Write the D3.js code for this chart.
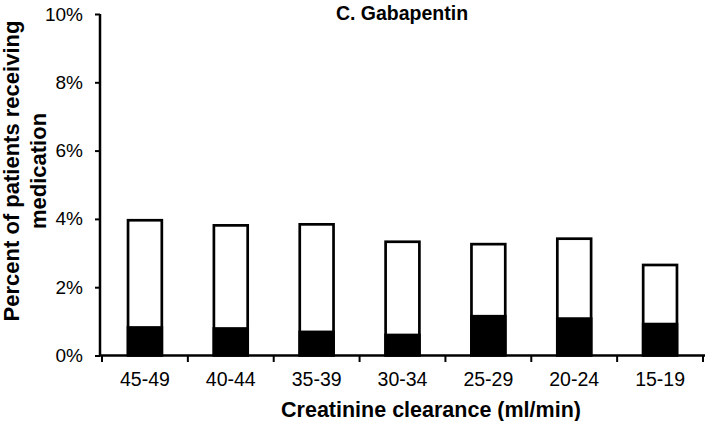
<!DOCTYPE html>
<html>
<head>
<meta charset="utf-8">
<script src="https://cdn.jsdelivr.net/npm/d3@7"></script>
<style>
  html, body { margin: 0; padding: 0; background: #fff; }
  svg { display: block; font-family: "Liberation Sans", Arial, sans-serif; }
</style>
</head>
<body>
<svg id="chart" width="705" height="421"></svg>
<script>
const categories = ["45-49", "40-44", "35-39", "30-34", "25-29", "20-24", "15-19"];
const totalPct = [4.00, 3.85, 3.88, 3.37, 3.30, 3.46, 2.69];
const blackPct = [0.86, 0.83, 0.73, 0.64, 1.19, 1.12, 0.96];
const yTicks = [0, 2, 4, 6, 8, 10];
const titleText = "C. Gabapentin";
const xTitle = "Creatinine clearance (ml/min)";
const yTitleLines = ["Percent of patients receiving", "medication"];

const svg = d3.select("#chart");
const x0 = 102, x1 = 703, yBase = 355.5, yTop = 14;

const x = d3.scaleBand().domain(categories).range([x0, x1]).padding(0);
const y = d3.scaleLinear().domain([0, 10]).range([yBase, yTop]);

const barW = x.bandwidth() * 0.425;
const sw = 2.7;

const g = svg.append("g");

// white (total) bars with black outline
g.selectAll("rect.total").data(categories).enter().append("rect")
  .attr("class", "total")
  .attr("x", (d) => x(d) + x.bandwidth() / 2 - barW / 2 + sw / 2)
  .attr("y", (d, i) => y(totalPct[i]) + sw / 2)
  .attr("width", barW - sw)
  .attr("height", (d, i) => yBase - y(totalPct[i]) - sw / 2)
  .attr("fill", "#fff").attr("stroke", "#000").attr("stroke-width", sw);

// black segment
g.selectAll("rect.black").data(categories).enter().append("rect")
  .attr("class", "black")
  .attr("x", (d) => x(d) + x.bandwidth() / 2 - barW / 2)
  .attr("y", (d, i) => y(blackPct[i]))
  .attr("width", barW)
  .attr("height", (d, i) => yBase - y(blackPct[i]))
  .attr("fill", "#000");

// y axis
const yAxis = d3.axisLeft(y).tickValues(yTicks).tickFormat(d => d + "%").tickSize(5).tickPadding(12);
const ya = svg.append("g").attr("transform", `translate(${x0 - 2},0)`).call(yAxis);
ya.select(".domain").attr("stroke", "#000").attr("stroke-width", 2.5).attr("d", `M0,${yTop}V${yBase}`);
ya.selectAll(".tick line").attr("stroke", "#000").attr("stroke-width", 2);
ya.selectAll(".tick text").attr("font-size", 19).attr("fill", "#000")
  .attr("font-family", "Liberation Sans, Arial, sans-serif");

// x axis: ticks at band boundaries
const xa = svg.append("g").attr("transform", `translate(0,${yBase})`);
xa.append("line").attr("x1", x0 - 3).attr("x2", 705).attr("y1", 0).attr("y2", 0)
  .attr("stroke", "#000").attr("stroke-width", 2.5);
const bounds = categories.map(d => x(d)).concat([x(categories[categories.length - 1]) + x.bandwidth()]);
xa.selectAll("line.tk").data(bounds).enter().append("line")
  .attr("class", "tk")
  .attr("x1", d => d).attr("x2", d => d).attr("y1", 0).attr("y2", 6.5)
  .attr("stroke", "#000").attr("stroke-width", 2);
xa.selectAll("text.lbl").data(categories).enter().append("text")
  .attr("class", "lbl")
  .attr("x", d => x(d) + x.bandwidth() / 2)
  .attr("y", 30.5)
  .attr("text-anchor", "middle")
  .attr("font-size", 19.5)
  .attr("fill", "#000")
  .text(d => d);

// titles
svg.append("text").attr("x", 402).attr("y", 20).attr("text-anchor", "middle")
  .attr("font-size", 19.5).attr("font-weight", "bold").text(titleText);

svg.append("text").attr("x", 431).attr("y", 416.5).attr("text-anchor", "middle")
  .attr("font-size", 21.5).attr("font-weight", "bold").text(xTitle);

const yt = svg.append("text").attr("transform", "translate(19,171) rotate(-90)")
  .attr("text-anchor", "middle").attr("font-size", 22).attr("font-weight", "bold");
yt.selectAll("tspan").data(yTitleLines).enter().append("tspan")
  .attr("x", 0).attr("dy", (d, i) => i === 0 ? 0 : 27).text(d => d);
</script>
</body>
</html>
